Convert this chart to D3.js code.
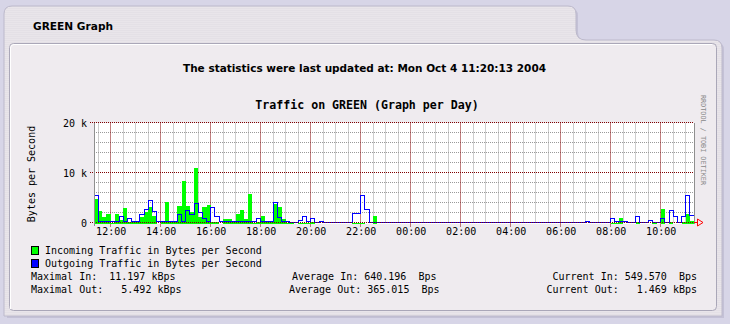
<!DOCTYPE html>
<html><head><meta charset="utf-8">
<script src="https://cdn.jsdelivr.net/npm/d3@7"></script>
<style>html,body{margin:0;padding:0;background:#d7d5e7;} svg{display:block}</style>
</head><body><svg id="c" width="730" height="324"></svg>
<script>
const pageTitle = "GREEN Graph";
const updatedText = "The statistics were last updated at: Mon Oct 4 11:20:13 2004";
const chartTitle = "Traffic on GREEN (Graph per Day)";
const yAxisLabel = "Bytes per Second";
const watermark = "RRDTOOL / TOBI OETIKER";
const startTime = new Date(2004, 9, 3, 11, 20);
const endTime = new Date(2004, 9, 4, 11, 20);
const stepMinutes = 10;
// kBytes per second, one value every 10 minutes starting 11:20
const incoming = [
 4.9,2.5,1.3,1.9,0.2,2.0,0.7,3.1,0.4,0.3, 0.5,1.2,2.3,3.3,1.5,0,0.3,4.3,0.5,0.5,
 3.5,8.5,3.5,2.3,11.197,1.3,3.3,3.8,0.3,0.3, 0,0.9,1.0,0.3,2.0,2.8,1.0,6.0,0.2,0.3,
 1.5,0.3,0.3,3.9,3.3,1.0,0.1,0.1,0,0.2, 0.2,0.2,0.3,0,0,0,0,0,0,0,
 0,0,0.2,0.2,0.2,0,0,1.6,0,0, 0,0,0,0,0,0,0,0,0,0,
 0,0,0,0,0,0,0,0,0,0, 0,0,0,0,0,0,0,0,0,0,
 0,0,0,0,0,0,0,0,0,0, 0,0,0,0,0,0,0,0,0,0,
 0,0,0,0,0.2,0.2,1.1,0,0,0, 0.3,0,0,0,0.2,0,2.9,0,0.3,0,
 0,0.3,2.0,0.55
];
const outgoing = [
 5.4,0.3,0.3,0.3,0.3,0.3,1.2,0.3,0.9,0.2, 0.3,1.7,2.7,4.5,2.3,0.3,0.3,0.3,0.3,0.3,
 1.7,0.3,2.5,1.6,3.9,2.0,0.7,0.3,3.0,1.2, 0.3,0.3,0.3,0.3,0.3,0.3,0.3,0.3,0.3,0.8,
 0.3,0.3,0.3,4.0,1.0,0.2,0.2,0.1,0.1,0.5, 1.2,0.3,0.8,0.1,0.3,0,0,0,0,0,
 0,0,1.9,1.8,5.492,2.7,0,0,0,0, 0,0,0,0,0,0,0,0,0,0,
 0,0,0,0,0,0,0,0,0,0, 0,0,0,0,0,0,0,0,0,0,
 0,0,0,0,0,0,0,0,0,0, 0,0,0,0,0,0,0,0,0.3,0,
 0,0,0,0,0.7,0.2,0.3,0.3,0,0, 1.2,0,0,0.5,0,0,0.8,0,2.5,1.2,
 0,1.2,5.4,1.47
];
const yTicks = [0, 10, 20];
const yTickLabels = ["0", "10 k", "20 k"];
const legendLabels = ["Incoming Traffic in Bytes per Second", "Outgoing Traffic in Bytes per Second"];
const legendColors = ["#00ff00", "#0000ff"];
const statsLeft = ["Maximal In:  11.197 kBps", "Maximal Out:   5.492 kBps"];
const statsMid = ["Average In: 640.196  Bps", "Average Out: 365.015  Bps"];
const statsRight = ["Current In: 549.570  Bps", "Current Out:   1.469 kBps"];

const svg = d3.select("#c");
const mono = "'DejaVu Sans Mono', monospace";

// page / panel
svg.append("rect").attr("width",730).attr("height",324).attr("fill","#d7d5e7");
const defs = svg.append("defs");
const pat = defs.append("pattern").attr("id","stripe").attr("width",4).attr("height",2).attr("patternUnits","userSpaceOnUse");
pat.append("rect").attr("width",4).attr("height",2).attr("fill","#e9e5ea");
pat.append("rect").attr("width",4).attr("height",1).attr("fill","#e4e0e6");
svg.append("path").attr("d","M7,10 Q7,8 15,8 L570,8 Q578,8 578,16 L578,32 Q578,42 588,42 L716,42 Q724,42 724,50 L724,318 L7,318 Z").attr("fill","#c4c1d6");
svg.append("path").attr("d","M4,14 Q4,6 12,6 L568,6 Q576,6 576,14 L576,30 Q576,40 586,40 L714,40 Q722,40 722,48 L722,316 L4,316 Z")
  .attr("fill","url(#stripe)").attr("stroke","#bcb9cb");
svg.append("rect").attr("x",9.5).attr("y",43.5).attr("width",707).attr("height",267).attr("rx",4).attr("fill","#efebef").attr("stroke","#aaa7b8");
svg.append("path").attr("d","M10.5,309 L10.5,48 Q10.5,44.5 14,44.5 L712,44.5").attr("fill","none").attr("stroke","#ffffff");

svg.append("text").attr("x",33).attr("y",30).attr("font-family","'DejaVu Sans', sans-serif").attr("font-weight","bold")
  .attr("font-size",11).attr("textLength",80).attr("lengthAdjust","spacingAndGlyphs").text(pageTitle);
svg.append("text").attr("x",183).attr("y",72).attr("font-family","'DejaVu Sans', sans-serif").attr("font-weight","bold")
  .attr("font-size",11).attr("textLength",363).attr("lengthAdjust","spacingAndGlyphs").text(updatedText);

// chart
const x = d3.scaleTime().domain([startTime, endTime]).range([94, 694]);
const y = d3.scaleLinear().domain([0, 20]).range([223.5, 123.5]);
const px = v => Math.floor(v) + 0.5;

svg.append("rect").attr("x",94).attr("y",123).attr("width",600).attr("height",101).attr("fill","#ffffff");

// grid (under data)
const g = svg.append("g");
const gridGrey = "#9a9a9a", gridRed = "#800000";
const minorX = d3.timeMinute.every(30).range(startTime, endTime).filter(t=>t.getMinutes()!==0 || t.getHours()%2!==0);
g.selectAll(".mx").data(minorX).enter().append("line")
  .attr("x1",d=>px(x(d))).attr("x2",d=>px(x(d))).attr("y1",123.5).attr("y2",223)
  .attr("stroke",gridGrey).attr("stroke-dasharray","1,1");
const minorY = d3.range(2, 20, 2).filter(v=>v%10!==0);
g.selectAll(".my").data(minorY).enter().append("line")
  .attr("x1",94).attr("x2",694).attr("y1",d=>px(y(d))-1).attr("y2",d=>px(y(d))-1)
  .attr("stroke",gridGrey).attr("stroke-dasharray","1,1");
const majorX = d3.timeHour.every(2).range(startTime, endTime);
g.selectAll(".Mx").data(majorX).enter().append("line")
  .attr("x1",d=>px(x(d))).attr("x2",d=>px(x(d))).attr("y1",123.5).attr("y2",227)
  .attr("stroke",gridRed).attr("stroke-dasharray","1,1");
g.selectAll(".My").data(yTicks.filter(v=>v>0)).enter().append("line")
  .attr("x1",90).attr("x2",694).attr("y1",d=>px(y(d))-1).attr("y2",d=>px(y(d))-1)
  .attr("stroke",gridRed).attr("stroke-dasharray","1,1");

function series(vals){
  const pts = vals.map((v,i)=>({t:d3.timeMinute.offset(startTime, i*stepMinutes), v}));
  pts.push({t:endTime, v:vals[vals.length-1]});
  return pts;
}
const inPts = series(incoming), outPts = series(outgoing);
svg.append("path").datum(inPts).attr("fill","#00ff00")
  .attr("d", d3.area().curve(d3.curveStepAfter).x(d=>Math.round(x(d.t))).y0(y(0)+0.5).y1(d=>Math.round(y(d.v))));
svg.append("path").datum(outPts).attr("fill","none").attr("stroke","#0000ff").attr("stroke-width",1)
  .attr("shape-rendering","crispEdges")
  .attr("d", d3.line().curve(d3.curveStepAfter).x(d=>px(x(d.t))).y(d=>px(y(d.v))-1));

// zero line and axes
svg.append("line").attr("x1",90).attr("x2",694).attr("y1",px(y(0))-1).attr("y2",px(y(0))-1)
  .attr("stroke",gridRed).attr("stroke-dasharray","1,1");
svg.append("line").attr("x1",94.5).attr("x2",94.5).attr("y1",123).attr("y2",226).attr("stroke","#8f8f8f");
svg.append("line").attr("x1",694.5).attr("x2",694.5).attr("y1",123).attr("y2",224).attr("stroke","#8f8f8f");
svg.append("path").attr("d","M694,222.5 L697.5,222.5 M697.5,219 L697.5,226 L703,222.5 Z").attr("fill","none").attr("stroke","#ff0000");

// labels
const xAxis = d3.axisBottom(x).tickValues(majorX).tickFormat(d3.timeFormat("%H:%M")).tickSize(0).tickPadding(0);
const xa = svg.append("g").attr("transform","translate(0,228)").call(xAxis);
xa.select(".domain").remove();
xa.selectAll("text").attr("font-family",mono).attr("font-size",10).attr("fill","#000").attr("dy","0.71em");

svg.selectAll(".yl").data(yTicks).enter().append("text")
  .attr("x",87).attr("y",d=>y(d)+3).attr("text-anchor","end").attr("font-family",mono).attr("font-size",10)
  .style("white-space","pre").text((d,i)=>yTickLabels[i]);
svg.append("text").attr("transform","translate(35,174) rotate(-90)").attr("text-anchor","middle")
  .attr("font-family",mono).attr("font-size",10).text(yAxisLabel);
svg.append("text").attr("x",367).attr("y",109).attr("text-anchor","middle").attr("font-family",mono)
  .attr("font-weight","bold").attr("font-size",11.6).text(chartTitle);
svg.append("text").attr("transform","translate(701,140) rotate(90)").attr("text-anchor","middle")
  .attr("font-family",mono).attr("font-size",6.8).attr("fill","#888").text(watermark);

// legend
legendLabels.forEach((t,i)=>{
  const yy = 246 + i*13;
  svg.append("rect").attr("x",31.5).attr("y",yy+0.5).attr("width",7).attr("height",8).attr("fill",legendColors[i]).attr("stroke","#000");
  svg.append("text").attr("x",45).attr("y",yy+8).attr("font-family",mono).attr("font-size",10).text(t);
});
[statsLeft, statsMid, statsRight].forEach((arr,k)=>{
  arr.forEach((t,i)=>{
    const yy = 280 + i*13;
    let xx, anchor;
    if(k===0){xx=31;anchor="start";}
    else if(k===1){xx=[292,289][i];anchor="start";}
    else {xx=697;anchor="end";}
    svg.append("text").attr("x",xx).attr("y",yy).attr("text-anchor",anchor).attr("font-family",mono)
      .attr("font-size",10).style("white-space","pre").text(t);
  });
});
</script></body></html>
